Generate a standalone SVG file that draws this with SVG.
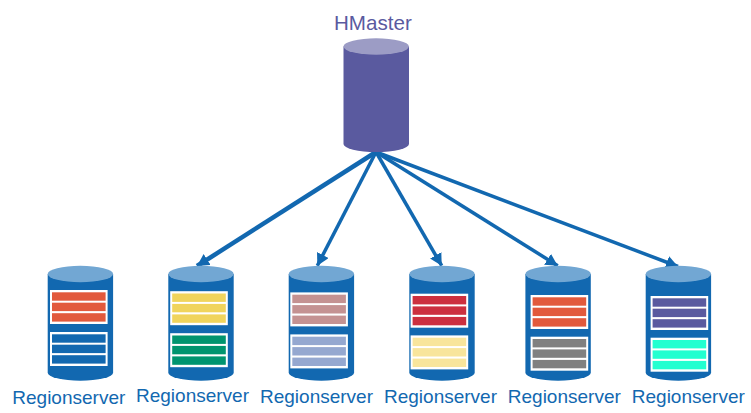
<svg xmlns="http://www.w3.org/2000/svg" width="751" height="413" viewBox="0 0 751 413">
<style>
text{font-family:"Liberation Sans",Arial,sans-serif;font-size:19px;fill:#1268b0}
#hmaster text{fill:#5a5a9f;font-size:20.6px}
.body{fill:#1268b0}.top{fill:#72a7d3}
#hmaster .body{fill:#5a5a9f}#hmaster .top{fill:#9c9cc5}
.edge{fill:none;stroke:#1268b0;stroke-width:3.500;marker-end:url(#head)}
</style>
<defs>
<marker id="head" markerUnits="userSpaceOnUse" markerWidth="14" markerHeight="14" refX="12" refY="6.500" orient="auto"><path d="M0 0L12 6.500L0 13Z" fill="#1268b0"/></marker>
<g id="stack"><rect width="57.6" height="34" fill="#fff"/><rect x="2" y="2.3" width="53.6" height="8.4" fill="currentColor"/><rect x="2" y="12.7" width="53.6" height="8.4" fill="currentColor"/><rect x="2" y="23.2" width="53.6" height="8.4" fill="currentColor"/></g>
<g id="can"><path class="body" d="M0 8V106.700A32.700 8 0 0 0 65.400 106.700V8Z"/><ellipse class="top" cx="32.700" cy="8" rx="32.700" ry="8.200"/></g>
</defs>
<g id="connectors">
<path class="edge" d="M376 152L197 266" style="stroke-width:4.500"/>
<path class="edge" d="M376 152L317.300 265.700"/>
<path class="edge" d="M376 152L441.700 265.700"/>
<path class="edge" d="M376 152L557.700 265.700"/>
<path class="edge" d="M376 152L678 266.500"/>
</g>
<g id="hmaster"><path class="body" d="M343.500 46.500V144A32.700 8 0 0 0 409 144V46.500Z"/><ellipse class="top" cx="376.200" cy="46.500" rx="32.700" ry="8.200"/><text x="334" y="29.500">HMaster</text></g>
<g id="rs1"><use href="#can" x="47.700" y="266"/><use href="#stack" x="50" y="290" color="#e2593c"/><use href="#stack" x="50" y="332" color="#1268b0"/><text x="12.300" y="403.500">Regionserver</text></g>
<g id="rs2"><use href="#can" x="168.300" y="266"/><use href="#stack" x="170.200" y="291.200" color="#f0d45c"/><use href="#stack" x="170.200" y="333.200" color="#00946f"/><text x="136" y="402">Regionserver</text></g>
<g id="rs3"><use href="#can" x="288.700" y="266"/><use href="#stack" x="290.300" y="292.400" color="#c49292"/><use href="#stack" x="290.300" y="334.400" color="#95a8d0"/><text x="260" y="402.500">Regionserver</text></g>
<g id="rs4"><use href="#can" x="409.300" y="266"/><use href="#stack" x="410.600" y="293.700" color="#cc2f3f"/><use href="#stack" x="410.600" y="335.400" color="#f8e59c"/><text x="384" y="402.500">Regionserver</text></g>
<g id="rs5"><use href="#can" x="525.400" y="266"/><use href="#stack" x="530.600" y="295" color="#e2593c"/><use href="#stack" x="530.600" y="336.700" color="#808080"/><text x="507.800" y="402.500">Regionserver</text></g>
<g id="rs6"><use href="#can" x="645.700" y="266"/><use href="#stack" x="650.600" y="296" color="#5a5a9f"/><use href="#stack" x="650.600" y="337.700" color="#22ffd0"/><text x="631.800" y="402.500">Regionserver</text></g>
</svg>
